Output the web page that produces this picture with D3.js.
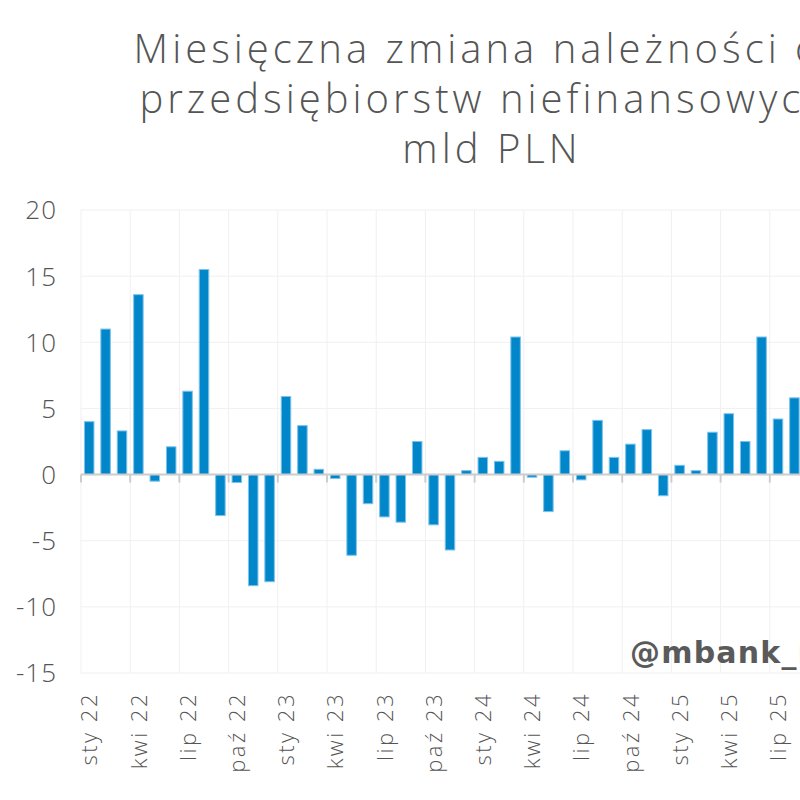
<!DOCTYPE html>
<html lang="pl">
	<head>
		<meta charset="utf-8">
		<title>Należności przedsiębiorstw</title>
		<script type="text/javascript" src="https://cdn.jsdelivr.net/npm/d3@7"></script>
		<style type="text/css">
			body{
				margin: 0;
				background: white;
				overflow: hidden;
			}
			.title{
				font-family: "Open Sans", sans-serif;
				font-weight: 300;
				font-size: 40px;
				letter-spacing: 4px;
				fill: #555;
			}
			.ylab{
				font-family: "Open Sans", sans-serif;
				font-weight: 300;
				font-size: 26px;
				letter-spacing: 1px;
				fill: #555;
			}
			.xlab{
				font-family: "Open Sans", sans-serif;
				font-weight: 300;
				font-size: 22px;
				letter-spacing: 2.5px;
				fill: #555;
			}
			.mark{
				font-family: "DejaVu Sans", sans-serif;
				font-weight: bold;
				font-size: 30px;
				letter-spacing: 1.2px;
				fill: #5a5a5a;
			}
		</style>
	</head>
	<body>
		<div class="chart"></div>
		<script type="text/javascript">

			// months Jan 2022 .. Aug 2025 (picture is cut on the right)
			var months = ["sty","lut","mar","kwi","maj","cze","lip","sie","wrz","paź","lis","gru"];
			var years = ["22","23","24","25"];

			var values = [
				4.0, 11.0, 3.3, 13.6, -0.5, 2.1, 6.3, 15.5, -3.1, -0.6, -8.4, -8.1,
				5.9, 3.7, 0.4, -0.3, -6.1, -2.2, -3.2, -3.6, 2.5, -3.8, -5.7, 0.3,
				1.3, 1.0, 10.4, -0.2, -2.8, 1.8, -0.4, 4.1, 1.3, 2.3, 3.4, -1.6,
				0.7, 0.3, 3.2, 4.6, 2.5, 10.4, 4.2, 5.8
			];

			var yTicks = [20, 15, 10, 5, 0, -5, -10, -15];

			var titleLines = ["Miesięczna zmiana należności od", "przedsiębiorstw niefinansowych,", "mld PLN"];

			var categories = values.map(function(v, i){
				return months[i % 12] + " " + years[Math.floor(i / 12)];
			});

			var w = 800;
			var h = 800;
			var left = 81;
			var step = 16.4;

			var svg = d3.select("div.chart")
						.append("svg")
						.attr("width", w)
						.attr("height", h);

			var xScale = d3.scaleBand()
						.domain(categories)
						.range([left, left + step * categories.length])
						.paddingInner(0.42)
						.paddingOuter(0.21);

			var yScale = d3.scaleLinear()
						.domain([-15, 20])
						.range([673, 210]);

			var plotRight = left + step * categories.length;

			// grid
			svg.append("g")
				.selectAll("line")
				.data(yTicks)
				.enter()
				.append("line")
				.attr("x1", left)
				.attr("x2", plotRight)
				.attr("y1", (d) => yScale(d))
				.attr("y2", (d) => yScale(d))
				.attr("stroke", "#f0f0f0")
				.attr("stroke-width", 1);

			var quarters = categories.filter((d, i) => i % 3 == 0);

			svg.append("g")
				.selectAll("line")
				.data(quarters)
				.enter()
				.append("line")
				.attr("x1", (d) => xScale(d) - xScale.step() * 0.21)
				.attr("x2", (d) => xScale(d) - xScale.step() * 0.21)
				.attr("y1", yScale(20))
				.attr("y2", yScale(-15))
				.attr("stroke", "#f0f0f0")
				.attr("stroke-width", 1);

			// bars
			svg.append("g")
				.selectAll("rect")
				.data(values)
				.enter()
				.append("rect")
				.attr("x", (d, i) => xScale(categories[i]))
				.attr("y", (d) => yScale(Math.max(0, d)))
				.attr("width", xScale.bandwidth())
				.attr("height", (d) => Math.abs(yScale(d) - yScale(0)))
				.attr("fill", "#0086c9")
				.attr("stroke", "#7cc3ec")
				.attr("stroke-width", 1);

			// zero axis with quarter ticks
			var xAxis = d3.axisBottom(xScale)
						.tickValues(quarters)
						.tickSize(8)
						.tickFormat("");

			var ax = svg.append("g")
				.attr("transform", "translate(" + (-xScale.step() * 0.5) + "," + yScale(0) + ")")
				.call(xAxis);
			ax.select(".domain").remove();
			ax.selectAll("line").attr("stroke", "#cccccc").attr("stroke-width", 2);

			svg.append("line")
				.attr("x1", left)
				.attr("x2", plotRight)
				.attr("y1", yScale(0))
				.attr("y2", yScale(0))
				.attr("stroke", "#cccccc")
				.attr("stroke-width", 2);

			// y labels
			svg.append("g")
				.selectAll("text")
				.data(yTicks)
				.enter()
				.append("text")
				.attr("class", "ylab")
				.attr("x", 57)
				.attr("y", (d) => yScale(d))
				.attr("dy", "0.36em")
				.attr("text-anchor", "end")
				.text((d) => d);

			// x labels
			svg.append("g")
				.selectAll("text")
				.data(quarters)
				.enter()
				.append("text")
				.attr("class", "xlab")
				.attr("text-anchor", "end")
				.attr("transform", (d) => "translate(" + (xScale(d) + xScale.bandwidth() / 2 + 0.5) + ",692) rotate(-90)")
				.attr("dy", "0.35em")
				.text((d) => d);

			// title
			svg.append("g")
				.selectAll("text")
				.data(titleLines)
				.enter()
				.append("text")
				.attr("class", "title")
				.attr("x", 492)
				.attr("y", (d, i) => 63 + i * 50)
				.attr("text-anchor", "middle")
				.text((d) => d);

			svg.append("text")
				.attr("class", "mark")
				.attr("x", 630)
				.attr("y", 663)
				.text("@mbank_research");

		</script>
	</body>
</html>
